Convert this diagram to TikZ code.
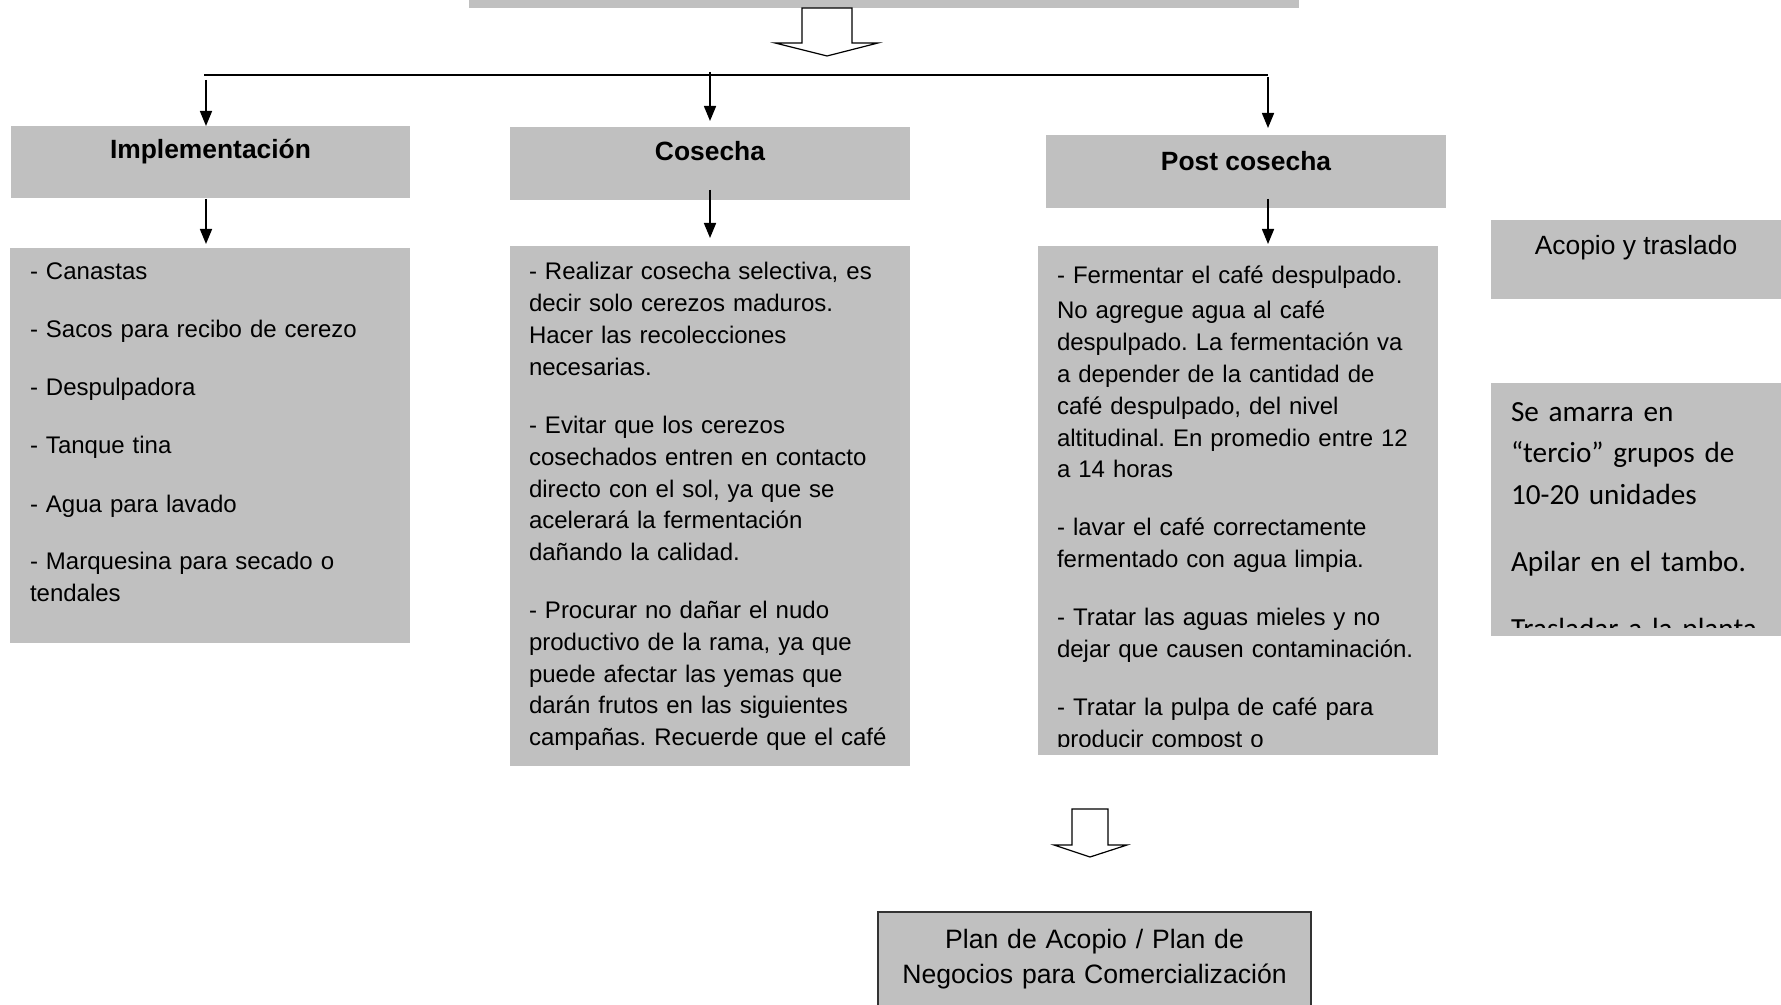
\documentclass[tikz,border=0pt]{standalone}
\usepackage{fontspec}
\setmainfont{Liberation Sans}
\newfontfamily\calibfont{Carlito}
\usetikzlibrary{arrows.meta,calc}
\definecolor{boxgray}{HTML}{C0C0C0}
\frenchspacing
\begin{document}
\begin{tikzpicture}[x=0.5pt,y=-0.5pt,
  box/.style={fill=boxgray, draw=none, inner sep=0pt, outer sep=0pt, anchor=north west},
  titlebox/.style={box, align=center, font=\fontsize{13.2pt}{15.9pt}\selectfont\bfseries},
  body/.style={anchor=base west, inner sep=0pt, outer sep=0pt, align=left, text width=#1,
    font=\fontsize{12pt}{15.9pt}\selectfont},
  body/.default=185pt,
  arr/.style={-{Triangle[length=7.5pt,width=6pt]}, line width=0.8pt},
  hollow/.style={fill=white, draw=black, line width=0.6pt, line join=miter}]
\useasboundingbox (0,0) rectangle (1781,1005);

% top box (cut off)
\node[box, anchor=south west, minimum width=415pt, minimum height=20pt] (top) at (469,8) {};

% titles
\node[titlebox, minimum width=199.5pt, text height=16.5pt, text depth=19.5pt] (impl) at (11,126) {Implementación};
\node[titlebox, minimum width=200pt, text height=17pt, text depth=19.5pt] (cos) at (510,127) {Cosecha};
\node[titlebox, minimum width=200pt, text height=18pt, text depth=18.5pt] (post) at (1046,135) {Post cosecha};

% content boxes
\node[box, minimum width=200pt, minimum height=197.5pt] (implC) at (10,248) {};
\node[box, minimum width=200pt, minimum height=260pt] (cosC) at (510,246) {};
\node[box, minimum width=200pt, minimum height=254.5pt] (postC) at (1038,246) {};
\node[box, minimum width=145pt, text height=17.5pt, text depth=22pt, align=center,
  font=\fontsize{13.2pt}{15.9pt}\selectfont] (acop) at (1491,220) {Acopio y traslado};
\node[box, minimum width=145pt, minimum height=126.5pt] (amar) at (1491,383) {};

% texts
\node[body] (implT) at (30,280) {- Canastas\\[13.1pt]
- Sacos para recibo de cerezo\\[13.1pt]
- Despulpadora\\[13.1pt]
- Tanque tina\\[13.1pt]
- Agua para lavado\\[13.1pt]
- Marquesina para secado o\\
tendales};

\node[body] (cosT) at (529,280) {- Realizar cosecha selectiva, es\\
decir solo cerezos maduros.\\
Hacer las recolecciones\\
necesarias.\\[13.1pt]
- Evitar que los cerezos\\
cosechados entren en contacto\\
directo con el sol, ya que se\\
acelerará la fermentación\\
dañando la calidad.\\[13.1pt]
- Procurar no dañar el nudo\\
productivo de la rama, ya que\\
puede afectar las yemas que\\
darán frutos en las siguientes\\
campañas. Recuerde que el café};

\begin{scope}
\clip (1038,246) rectangle (1438,746);
\node[body] (postT) at (1057,284) {- Fermentar el café despulpado.\\[1.6pt]
No agregue agua al café\\
despulpado. La fermentación va\\
a depender de la cantidad de\\
café despulpado, del nivel\\
altitudinal. En promedio entre 12\\
a 14 horas\\[13.1pt]
- lavar el café correctamente\\
fermentado con agua limpia.\\[13.1pt]
- Tratar las aguas mieles y no\\
dejar que causen contaminación.\\[13.1pt]
- Tratar la pulpa de café para\\
producir compost o};
\end{scope}

\begin{scope}
\clip (1491,383) rectangle (1781,627);
\node[body=140pt, font=\calibfont\fontsize{14.6pt}{20.75pt}\selectfont] (amarT) at (1511,421) {Se amarra en\\
“tercio” grupos de\\
10-20 unidades\\[12.75pt]
Apilar en el tambo.\\[12.75pt]
Trasladar a la planta};
\end{scope}

% bottom box
\node[box, anchor=north, draw=black!80, line width=0.75pt, text width=216.5pt, align=center,
  font=\fontsize{13.3pt}{17.5pt}\selectfont, text height=18pt, text depth=40pt] (plan) at (1094.5,912)
  {Plan de Acopio / Plan de\\ Negocios para Comercialización};

% hollow arrows
\draw[hollow] (802,8) -- (802,43) -- (775,43) -- (827,56) -- (878,43) -- (852,43) -- (852,8) -- cycle;
\draw[hollow] (1072,809) -- (1072,845) -- (1054,845) -- (1090,857) -- (1127,845) -- (1108,845) -- (1108,809) -- cycle;

% connectors
\coordinate (hl) at (204,75);
\coordinate (hr) at (1268,75);
\draw[line width=0.8pt] (hl) -- (hr);
\coordinate (d1) at (206,80);
\coordinate (d2) at (710,72);
\coordinate (d3) at (1268,77);
\draw[arr] (d1) -- (d1 |- impl.north);
\draw[arr, shorten >=3pt] (d2) -- (d2 |- cos.north);
\draw[arr, shorten >=3.5pt] (d3) -- (d3 |- post.north);

\coordinate (e1) at (206,199);
\coordinate (e2) at (710,190);
\coordinate (e3) at (1268,199);
\draw[arr, shorten >=2pt] (e1) -- (e1 |- implC.north);
\draw[arr, shorten >=4pt] (e2) -- (e2 |- cosC.north);
\draw[arr, shorten >=1pt] (e3) -- (e3 |- postC.north);
\end{tikzpicture}
\end{document}
